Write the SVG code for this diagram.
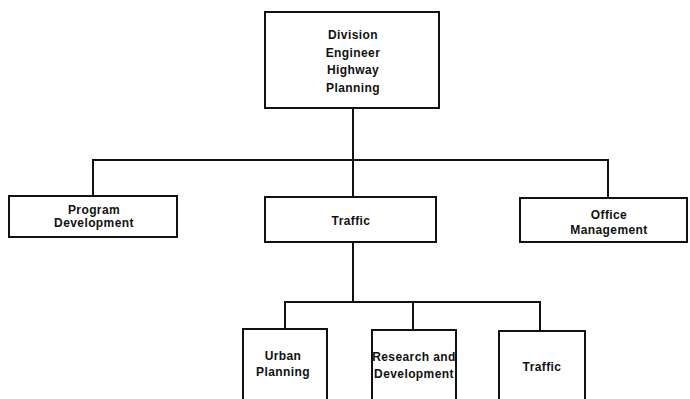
<svg xmlns="http://www.w3.org/2000/svg" width="690" height="399" viewBox="0 0 690 399">
  <style>
    .box { fill: #fff; stroke: #111; stroke-width: 2; }
    .wire { fill: none; stroke: #111; stroke-width: 2; }
    .lbl { font-family: "Liberation Sans", Arial, sans-serif; font-weight: bold; font-size: 12px; letter-spacing: 0.4px; fill: #111; text-anchor: middle; }
  </style>
  <rect width="690" height="399" fill="#fff"/>

  <g id="connectors">
    <path class="wire" d="M353 108 V197"/>
    <path class="wire" d="M93 196 V160 H608 V198"/>
    <path class="wire" d="M353 242 V302"/>
    <path class="wire" d="M285 329 V302 H540 V331"/>
    <path class="wire" d="M413 302 V330"/>
  </g>

  <g id="division-engineer">
    <rect class="box" x="265" y="12" width="174" height="96"/>
    <text class="lbl" x="353" y="39">Division</text>
    <text class="lbl" x="353" y="56.5">Engineer</text>
    <text class="lbl" x="353" y="74">Highway</text>
    <text class="lbl" x="353" y="91.5">Planning</text>
  </g>

  <g id="program-development">
    <rect class="box" x="9" y="196" width="168" height="41"/>
    <text class="lbl" x="94" y="213.5">Program</text>
    <text class="lbl" x="94" y="226.5">Development</text>
  </g>

  <g id="traffic">
    <rect class="box" x="265" y="197" width="171" height="45"/>
    <text class="lbl" x="351" y="224.5">Traffic</text>
  </g>

  <g id="office-management">
    <rect class="box" x="520" y="198" width="167" height="44"/>
    <text class="lbl" x="609" y="218.5">Office</text>
    <text class="lbl" x="609" y="234">Management</text>
  </g>

  <g id="urban-planning">
    <rect class="box" x="243" y="329" width="84" height="80"/>
    <text class="lbl" x="283" y="360">Urban</text>
    <text class="lbl" x="283" y="375.5">Planning</text>
  </g>

  <g id="research-development">
    <rect class="box" x="372" y="330" width="84" height="80"/>
    <text class="lbl" x="414" y="361">Research and</text>
    <text class="lbl" x="414" y="378">Development</text>
  </g>

  <g id="traffic-sub">
    <rect class="box" x="499" y="331" width="86" height="80"/>
    <text class="lbl" x="542" y="371">Traffic</text>
  </g>
</svg>
